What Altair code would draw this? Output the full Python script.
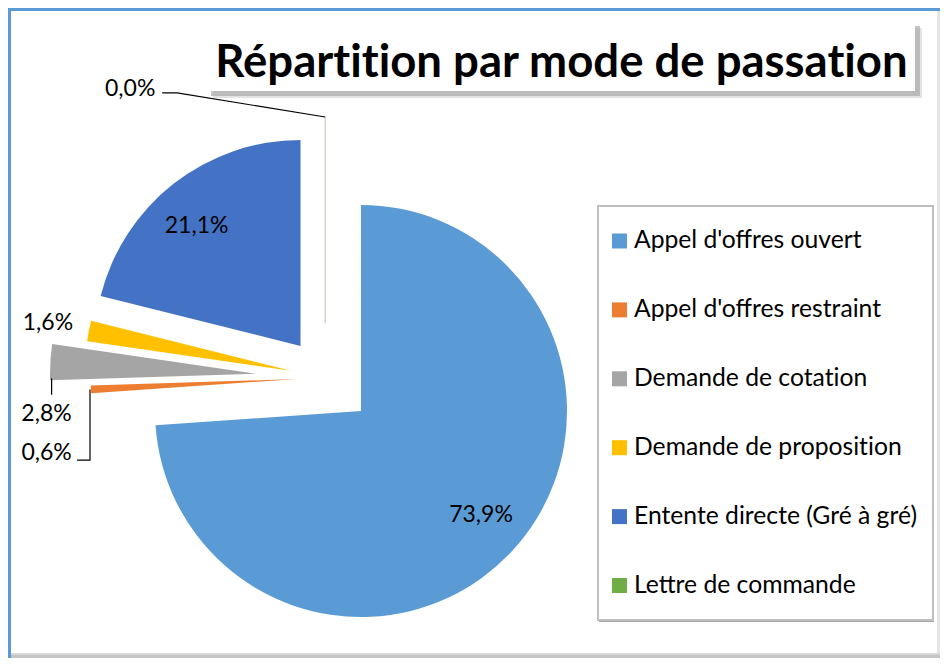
import math
import altair as alt
import pandas as pd

# ---------------- data ----------------
categories = [
    "Appel d'offres ouvert",
    "Appel d'offres restraint",
    "Demande de cotation",
    "Demande de proposition",
    "Entente directe (Gré à gré)",
    "Lettre de commande",
]
values = [73.9, 0.6, 2.8, 1.6, 21.1, 0.0]
title_text = "Répartition par mode de passation"

# ---------------- style ----------------
colors = ["#5B9BD5", "#ED7D31", "#A5A5A5", "#FFC000", "#4472C4", "#70AD47"]
W, H = 932, 650
CX, CY = 317.2, 369.6          # pie centre (before explosion)
R = 206                         # pie radius
explode = [49.0, 28.5, 69.3, 34.9, 40.1, 54.6]        # px offset of each slice
label_r = [158.8, 260.9, 213.3, 247.7, 158.8, 304.7]  # label distance from slice centre
label_dtheta = [-2.1, -13.6, -14.1, 0.0, -2.9, -39.8] # label angle shift (deg)
FONT = "Lato"
FS = 23
LEG_FS = 24.7
ZWNJ = "\u200c"  # keeps the font from joining "ti" into a ligature

slices = pd.DataFrame({
    "category": categories,
    "value": values,
    "idx": list(range(len(categories))),
    "explode": explode,
    "lr": label_r,
    "ldt": label_dtheta,
})

base = (
    alt.Chart(slices)
    .transform_joinaggregate(total="sum(value)")
    .transform_window(cum="sum(value)", sort=[alt.SortField("idx", order="ascending")], frame=[None, 0])
    .transform_calculate(f0="(datum.cum - datum.value) / datum.total", f1="datum.cum / datum.total")
    .transform_calculate(mid="PI * (datum.f0 + datum.f1)")
    .transform_calculate(
        sx=f"{CX} + datum.explode * sin(datum.mid)",
        sy=f"{CY} - datum.explode * cos(datum.mid)",
        lt="datum.mid + datum.ldt * PI / 180",
    )
    .transform_calculate(
        lx="datum.sx + datum.lr * sin(datum.lt)",
        ly="datum.sy - datum.lr * cos(datum.lt)",
        label="replace(format(datum.value, '.1f'), '.', ',') + '%'",
    )
)

color_scale = alt.Scale(domain=categories, range=colors)

arcs = base.mark_arc(radius=R, stroke="#d6d2c8", strokeWidth=1).encode(
    x=alt.X("sx:Q", scale=None, axis=None),
    y=alt.Y("sy:Q", scale=None, axis=None),
    theta=alt.Theta("f0:Q", scale=alt.Scale(domain=[0, 1], range=[0, 2 * math.pi])),
    theta2="f1:Q",
    color=alt.Color("category:N", scale=color_scale, legend=None),
    strokeOpacity=alt.condition(alt.datum.value == 0, alt.value(1), alt.value(0)),
)

labels = base.mark_text(font=FONT, fontSize=FS, color="black", align="center", baseline="middle").encode(
    x=alt.X("lx:Q", scale=None, axis=None),
    y=alt.Y("ly:Q", scale=None, axis=None),
    text="label:N",
)

# ---------------- leader lines (computed from the same values) ----------------
total = sum(values)


def geom(i):
    f0 = sum(values[:i]) / total
    f1 = sum(values[: i + 1]) / total
    mid = math.pi * (f0 + f1)
    sx = CX + explode[i] * math.sin(mid)
    sy = CY - explode[i] * math.cos(mid)
    lt = mid + math.radians(label_dtheta[i])
    lx = sx + label_r[i] * math.sin(lt)
    ly = sy - label_r[i] * math.cos(lt)
    return f0, f1, mid, sx, sy, lx, ly


def outer(sx, sy, a):
    return sx + R * math.sin(a), sy - R * math.cos(a)


rows = []
# Lettre de commande (0,0%)
f0, f1, mid, sx, sy, lx, ly = geom(5)
px, py = outer(sx, sy, mid)
for k, (x, y) in enumerate([(px, py), (lx + 47, ly + 4), (lx + 32, ly + 4)]):
    rows.append({"leader": "g", "o": k, "x": x, "y": y})
# Demande de cotation (2,8%)
f0, f1, mid, sx, sy, lx, ly = geom(2)
px, py = outer(sx, sy, 2 * math.pi * f0)
for k, (x, y) in enumerate([(px + 1.5, py - 2), (px + 1.5, ly - 19)]):
    rows.append({"leader": "c", "o": k, "x": x, "y": y})
# Appel d'offres restraint (0,6%)
f0, f1, mid, sx, sy, lx, ly = geom(1)
px, py = outer(sx, sy, mid)
for k, (x, y) in enumerate([(px - 1, py), (px - 1, ly + 7), (lx + 30.5, ly + 7)]):
    rows.append({"leader": "r", "o": k, "x": x, "y": y})
leaders_df = pd.DataFrame(rows)

leaders = alt.Chart(leaders_df).mark_line(color="black", strokeWidth=1.2).encode(
    x=alt.X("x:Q", scale=None, axis=None),
    y=alt.Y("y:Q", scale=None, axis=None),
    detail="leader:N",
    order="o:Q",
)

# ---------------- decorations ----------------
one = pd.DataFrame({"a": [0]})


def box(x0, x1, y0, y1, **kw):
    return alt.Chart(one).mark_rect(**kw).encode(
        x=alt.value(x0), x2=alt.value(x1), y=alt.value(y0), y2=alt.value(y1)
    )


frame = [
    box(0, 932, 0, 650, fill="white"),
    box(929, 932, 3, 650, fill="#e4e4e4"),
    box(0, 932, 645, 650, fill="#d8d8d8"),
    box(0, 932, 647, 650, fill="#c4c4c4"),
    box(0, 3, 0, 650, fill="#5B9BD5"),
    box(0, 932, 0, 3, fill="#5B9BD5"),
]

title_layers = [
    box(205, 914, 20, 90, fill="#c8c8c8", opacity=0.5),
    box(203, 912, 18, 88, fill="#a0a0a0", opacity=0.6),
    box(199, 907, 14, 83, fill="white"),
    alt.Chart(one).mark_text(
        text=title_text.replace("ti", "t" + ZWNJ + "i"), font=FONT, fontSize=45.5, fontWeight="bold",
        color="black", align="center", baseline="alphabetic",
    ).encode(x=alt.value(553.5), y=alt.value(69)),
]

legend_df = pd.DataFrame({"category": categories})
leg_y = alt.Y("category:N", scale=alt.Scale(type="point", domain=categories, range=[233, 577.5], padding=0), axis=None)
legend_layers = [
    box(591, 926, 200, 614, fill="#a6a6a6"),
    box(590, 925, 198, 612, fill="white", stroke="#BFBFBF", strokeWidth=2),
    alt.Chart(legend_df).mark_square(size=225, opacity=1).encode(
        x=alt.value(611.5), y=leg_y,
        color=alt.Color("category:N", scale=color_scale, legend=None),
    ),
    alt.Chart(legend_df)
    .transform_calculate(shown=f"replace(datum.category, regexp('ti', 'g'), 't{ZWNJ}i')")
    .mark_text(align="left", baseline="middle", font=FONT, fontSize=LEG_FS, color="black")
    .encode(x=alt.value(626), y=leg_y, text="shown:N"),
]

chart = (
    alt.layer(*frame, *title_layers, *legend_layers, arcs, labels, leaders)
    .resolve_scale(x="independent", y="independent", color="independent", theta="independent")
    .properties(width=W, height=H, padding=0, autosize=alt.AutoSizeParams(type="none"), background="white")
    .configure_view(stroke=None)
)

chart.save("out.html", embed_options={"renderer": "svg", "actions": False})
